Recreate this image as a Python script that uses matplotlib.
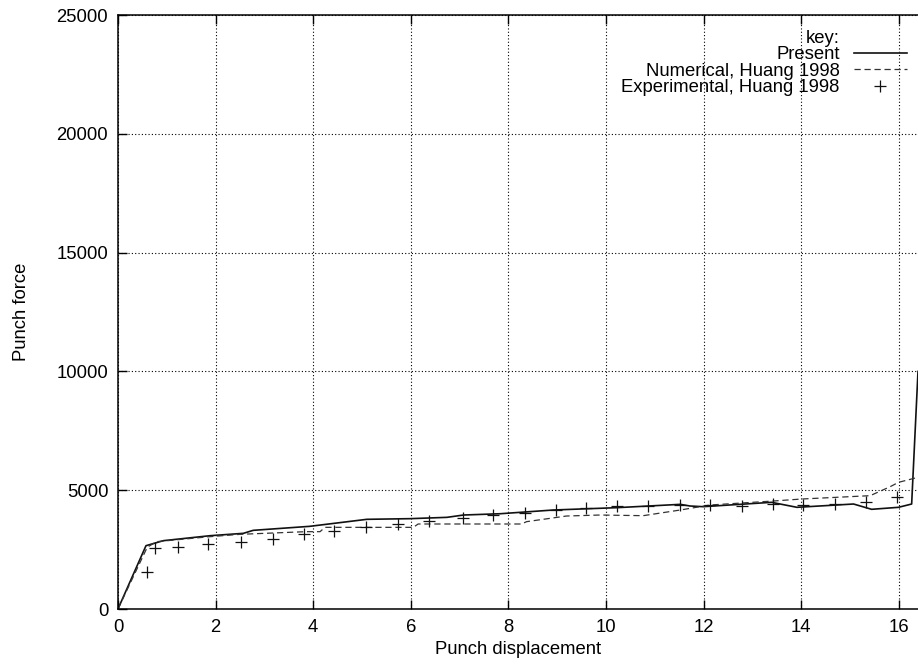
import matplotlib
matplotlib.use("Agg")
import matplotlib.pyplot as plt

plt.rcParams['font.family'] = ['Liberation Sans', 'DejaVu Sans']
plt.rcParams['font.size'] = 13.3

# present model (solid)
present_x = [0, 0.574, 0.93, 1.885, 2.57, 2.77, 3.93, 5.10, 5.98, 6.74, 7.08, 7.83,
             8.92, 10.22, 11.52, 11.72, 11.99, 13.39, 13.91, 15.07, 15.44, 15.99,
             16.26, 16.39]
present_y = [0, 2665, 2876, 3085, 3185, 3311, 3480, 3775, 3802, 3858, 3956, 4010,
             4167, 4265, 4405, 4335, 4307, 4490, 4280, 4419, 4196, 4280,
             4419, 10000]

# numerical, Huang 1998 (dashed)
num_x = [0, 0.6, 0.79, 1.885, 2.5, 3.85, 4.14, 4.24, 6.05, 6.15, 8.27, 8.37, 9.19,
         9.88, 10.76, 11.52, 12.13, 13.43, 14.01, 15.41, 15.82, 15.99, 16.39]
num_y = [0, 2600, 2833, 3045, 3143, 3255, 3255, 3437, 3437, 3578, 3578, 3676, 3914,
         3956, 3928, 4167, 4377, 4546, 4630, 4770, 5148, 5331, 5542]

# experimental, Huang 1998 (+)
exp_x = [0.59, 0.758, 1.22, 1.85, 2.53, 3.18, 3.82, 4.43, 5.08, 5.73, 6.37, 7.06,
         7.68, 8.33, 8.97, 9.59, 10.22, 10.85, 11.52, 12.13, 12.79, 13.42, 14.03,
         14.68, 15.32, 15.96]
exp_y = [1570, 2555, 2597, 2723, 2833, 2946, 3157, 3297, 3437, 3578, 3704, 3816,
         3970, 4054, 4167, 4251, 4335, 4349, 4377, 4377, 4349, 4405, 4391,
         4433, 4490, 4728]

xticks = [0, 2, 4, 6, 8, 10, 12, 14, 16]
yticks = [0, 5000, 10000, 15000, 20000, 25000]

fig = plt.figure(figsize=(9.18, 6.65), dpi=100)
ax = fig.add_axes([0.1285, 0.0842, 0.8715, 0.8932])

# gnuplot style "key:" header as an entry with no visible handle
ax.plot([], [], ls='none', label='key:')
ax.plot(present_x, present_y, '-', color='#111111', lw=1.2, label='Present')
ax.plot(num_x, num_y, '--', color='#333333', lw=0.9, dashes=(5, 3),
        label='Numerical, Huang 1998')
ax.plot(exp_x, exp_y, '+', color='#111111', ms=8, mew=0.9, ls='none',
        label='Experimental, Huang 1998')

ax.set_xlim(0, 16.39)
ax.set_ylim(0, 25000)
ax.set_xticks(xticks)
ax.set_yticks(yticks)
ax.grid(True, color='black', ls=(0, (1, 2)), lw=0.8)
ax.tick_params(direction='in', length=6.5, width=1, top=True, right=False, pad=7)
for s in ['left', 'bottom', 'top']:
    ax.spines[s].set_linewidth(1.1)
ax.spines['right'].set_visible(False)

ax.set_xlabel('Punch displacement', labelpad=4)
ax.set_ylabel('Punch force', labelpad=19)

leg = ax.legend(loc='upper right', bbox_to_anchor=(0.998, 0.99),
                frameon=False, markerfirst=False, handlelength=2.9,
                handletextpad=0.75, labelspacing=-0.04, borderpad=0)

fig.savefig('out.png', dpi=100)
